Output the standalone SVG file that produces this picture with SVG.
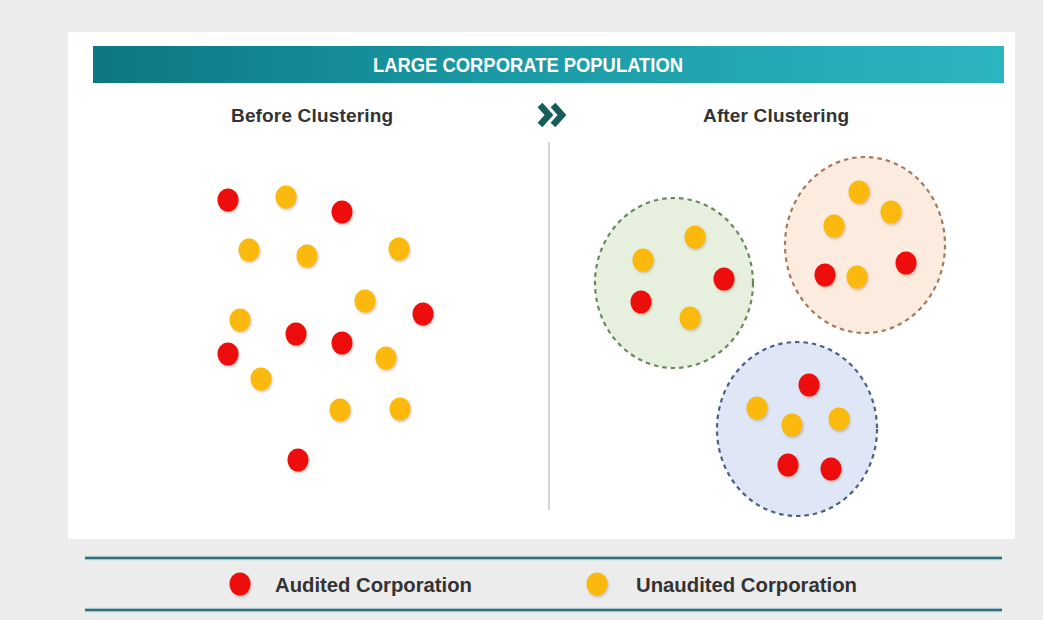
<svg xmlns="http://www.w3.org/2000/svg" width="1043" height="620" viewBox="0 0 1043 620">
  <defs>
    <linearGradient id="bannerGrad" x1="0" y1="0" x2="1" y2="0">
      <stop offset="0" stop-color="#0c7782"/>
      <stop offset="0.45" stop-color="#1b9aa5"/>
      <stop offset="1" stop-color="#2bb5bf"/>
    </linearGradient>
    <filter id="dotShadow" x="-50%" y="-50%" width="200%" height="200%">
      <feDropShadow dx="1" dy="1.5" stdDeviation="1.2" flood-color="#7a5a3a" flood-opacity="0.35"/>
    </filter>
    <ellipse id="dot" cx="0" cy="0" rx="10.5" ry="11.5"/>
  </defs>
  <style>
    .title { font-family: "Liberation Sans", Arial, sans-serif; font-weight: bold; font-size: 19px; fill: #333333; }
    .banner-text { font-family: "Liberation Sans", Arial, sans-serif; font-weight: bold; font-size: 20px; fill: #ffffff; }
    .legend-text { font-family: "Liberation Sans", Arial, sans-serif; font-weight: bold; font-size: 21px; fill: #333333; }
    .red { fill: #ee0a0a; filter: url(#dotShadow); }
    .yellow { fill: #fbb90a; filter: url(#dotShadow); }
    .cluster { stroke-width: 2.2; stroke-dasharray: 4.5 4; }
    .rule-halo { stroke: #c8e4e7; stroke-width: 5; }
    .rule { stroke: #33707a; stroke-width: 2.5; }
  </style>

  <!-- page and panel -->
  <rect x="0" y="0" width="1043" height="620" fill="#ececec"/>
  <rect x="68" y="32" width="947" height="507" fill="#ffffff"/>

  <g id="banner">
    <rect x="93" y="46" width="911" height="37" fill="url(#bannerGrad)"/>
    <text class="banner-text" x="528" y="72" text-anchor="middle" textLength="310" lengthAdjust="spacingAndGlyphs">LARGE CORPORATE POPULATION</text>
  </g>

  <g id="title-before">
    <text class="title" x="312" y="122" text-anchor="middle" textLength="162">Before Clustering</text>
  </g>
  <g id="title-after">
    <text class="title" x="776" y="122" text-anchor="middle" textLength="146">After Clustering</text>
  </g>

  <g id="chevron" fill="none" stroke="#175e58" stroke-width="6.5" stroke-linejoin="miter">
    <polyline points="540,105 549,115 540,125"/>
    <polyline points="553,105 562,115 553,125"/>
  </g>

  <g id="divider">
    <line x1="549" y1="142" x2="549" y2="510" stroke="#d2d2d2" stroke-width="2"/>
  </g>

  <!-- unclustered population -->
  <g id="population-before">
    <use href="#dot" class="red" x="228" y="200"/>
    <use href="#dot" class="yellow" x="286" y="197"/>
    <use href="#dot" class="red" x="342" y="212"/>
    <use href="#dot" class="yellow" x="249" y="250"/>
    <use href="#dot" class="yellow" x="307" y="256"/>
    <use href="#dot" class="yellow" x="399" y="249"/>
    <use href="#dot" class="yellow" x="365" y="301"/>
    <use href="#dot" class="red" x="423" y="314"/>
    <use href="#dot" class="yellow" x="240" y="320"/>
    <use href="#dot" class="red" x="296" y="334"/>
    <use href="#dot" class="red" x="342" y="343"/>
    <use href="#dot" class="red" x="228" y="354"/>
    <use href="#dot" class="yellow" x="386" y="358"/>
    <use href="#dot" class="yellow" x="261" y="379"/>
    <use href="#dot" class="yellow" x="340" y="410"/>
    <use href="#dot" class="yellow" x="400" y="409"/>
    <use href="#dot" class="red" x="298" y="460"/>
  </g>

  <!-- clusters -->
  <g id="cluster-green">
    <ellipse class="cluster" cx="674" cy="283" rx="79" ry="85" fill="#e7f0de" stroke="#6b8a5c"/>
    <use href="#dot" class="yellow" x="695" y="237"/>
    <use href="#dot" class="yellow" x="643" y="260"/>
    <use href="#dot" class="red" x="724" y="279"/>
    <use href="#dot" class="red" x="641" y="302"/>
    <use href="#dot" class="yellow" x="690" y="318"/>
  </g>

  <g id="cluster-orange">
    <ellipse class="cluster" cx="865" cy="245" rx="80" ry="88" fill="#fcebdf" stroke="#a87a5c"/>
    <use href="#dot" class="yellow" x="859" y="192"/>
    <use href="#dot" class="yellow" x="891" y="212"/>
    <use href="#dot" class="yellow" x="834" y="226"/>
    <use href="#dot" class="red" x="906" y="263"/>
    <use href="#dot" class="red" x="825" y="275"/>
    <use href="#dot" class="yellow" x="857" y="277"/>
  </g>

  <g id="cluster-blue">
    <ellipse class="cluster" cx="797" cy="429" rx="80" ry="87" fill="#dfe7f6" stroke="#4c5f86"/>
    <use href="#dot" class="red" x="809" y="385"/>
    <use href="#dot" class="yellow" x="757" y="408"/>
    <use href="#dot" class="yellow" x="792" y="425"/>
    <use href="#dot" class="yellow" x="839" y="419"/>
    <use href="#dot" class="red" x="788" y="465"/>
    <use href="#dot" class="red" x="831" y="469"/>
  </g>

  <!-- legend -->
  <g id="legend">
    <line class="rule-halo" x1="85" y1="558" x2="1002" y2="558"/>
    <line class="rule" x1="85" y1="558" x2="1002" y2="558"/>
    <line class="rule-halo" x1="85" y1="610" x2="1002" y2="610"/>
    <line class="rule" x1="85" y1="610" x2="1002" y2="610"/>
    <g id="legend-audited">
      <use href="#dot" class="red" x="240" y="584"/>
      <text class="legend-text" x="275" y="592" textLength="197" lengthAdjust="spacingAndGlyphs">Audited Corporation</text>
    </g>
    <g id="legend-unaudited">
      <use href="#dot" class="yellow" x="597" y="584"/>
      <text class="legend-text" x="636" y="592" textLength="221" lengthAdjust="spacingAndGlyphs">Unaudited Corporation</text>
    </g>
  </g>
</svg>
